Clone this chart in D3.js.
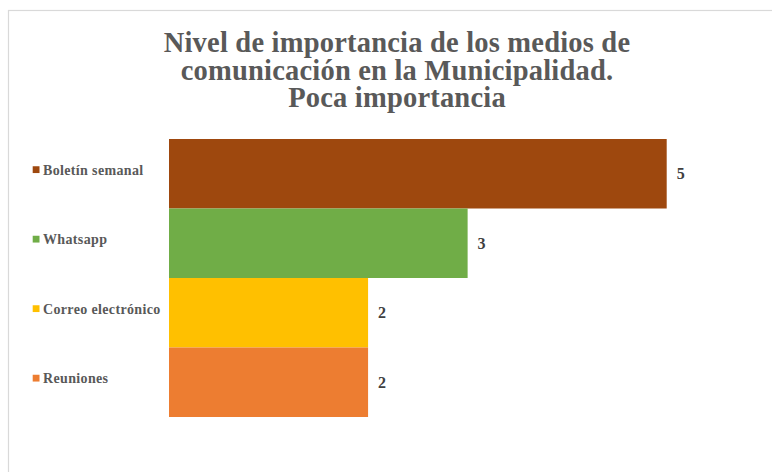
<!DOCTYPE html>
<html>
<head>
<meta charset="utf-8">
<script src="https://cdn.jsdelivr.net/npm/d3@7"></script>
<style>
  html, body { margin: 0; padding: 0; background: #fff; }
  svg { display: block; }
</style>
</head>
<body>
<svg id="chart" width="772" height="472"></svg>
<script>
const categories = ["Boletín semanal", "Whatsapp", "Correo electrónico", "Reuniones"];
const values = [5, 3, 2, 2];
const colors = ["#9E480E", "#70AD47", "#FFC000", "#ED7D31"];
const titleLines = ["Nivel de importancia de los medios de", "comunicación en la Municipalidad.", "Poca importancia"];

const svg = d3.select("#chart");
const W = 772, H = 472;

// chart border (extends off the right and bottom edge)
svg.append("rect")
  .attr("x", 8.5).attr("y", 10.5)
  .attr("width", W + 10).attr("height", H + 10)
  .attr("fill", "#fff").attr("stroke", "#d9d9d9").attr("stroke-width", 1.2);

// title
const title = svg.append("text")
  .attr("text-anchor", "middle")
  .attr("font-family", "'Liberation Serif', 'Times New Roman', serif")
  .attr("font-weight", "bold")
  .attr("font-size", 28.5)
  .attr("letter-spacing", 0.2)
  .attr("fill", "#595959");
titleLines.forEach((t, i) => {
  title.append("tspan").attr("x", 397).attr("y", 52 + i * 27.6).text(t);
});

const x = d3.scaleLinear().domain([0, 5]).range([169, 666.7]);
const y = d3.scaleBand().domain(categories).range([139, 417]).padding(0);

// bars
svg.append("g").selectAll("rect")
  .data(categories)
  .join("rect")
  .attr("x", x(0))
  .attr("y", d => y(d))
  .attr("width", (d, i) => x(values[i]) - x(0))
  .attr("height", y.bandwidth())
  .attr("fill", (d, i) => colors[i]);

// value labels
svg.append("g").selectAll("text")
  .data(categories)
  .join("text")
  .attr("x", (d, i) => x(values[i]) + 10)
  .attr("y", d => y(d) + y.bandwidth() / 2 + 5.5)
  .attr("font-family", "'Liberation Serif', 'Times New Roman', serif")
  .attr("font-weight", "bold")
  .attr("font-size", 16)
  .attr("fill", "#404040")
  .text((d, i) => values[i]);

// category labels with colored markers
const lab = svg.append("g").selectAll("g")
  .data(categories)
  .join("g")
  .attr("transform", d => `translate(0, ${y(d) + y.bandwidth() / 2})`);
lab.append("rect")
  .attr("x", 32.7).attr("y", -7.5)
  .attr("width", 6.8).attr("height", 6.8)
  .attr("fill", (d, i) => colors[i]);
lab.append("text")
  .attr("x", 43).attr("y", 1.2)
  .attr("font-family", "'Liberation Serif', 'Times New Roman', serif")
  .attr("font-weight", "bold")
  .attr("font-size", 14)
  .attr("letter-spacing", 0.35)
  .attr("fill", "#595959")
  .text(d => d);
</script>
</body>
</html>
